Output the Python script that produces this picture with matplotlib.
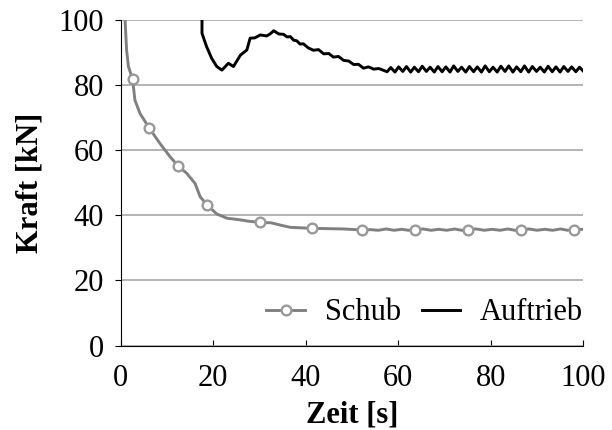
import matplotlib
matplotlib.use("Agg")
import matplotlib.pyplot as plt

# Schub (thrust) - grey line with circle markers
t_schub = [0.97, 1.3, 1.7, 2.6, 3.1, 4.2, 6.2, 8.5, 10.7, 12.4, 14.3, 16.1, 17.2, 18.7,
           20.8, 23.0, 25.9, 27.6, 30.2, 32.5, 34.5, 36.7, 41.4, 48.2, 52.2, 54.0, 55.7,
           57.4, 59.1, 60.8, 62.2, 63.7, 65.4, 67.1, 68.8, 70.5, 72.2, 73.7, 75.2,
           76.9, 78.6, 80.3, 82.0, 83.7, 85.2, 86.6, 88.3, 90.0, 91.7, 93.4, 95.1,
           96.6, 98.1, 100.0]
v_schub = [100.0, 90.8, 85.7, 81.8, 75.4, 71.3, 66.8, 62.1, 58.0, 55.2, 52.9, 49.8, 45.7, 43.2,
           40.4, 39.1, 38.6, 38.2, 37.8, 37.7, 37.0, 36.3, 36.0, 35.8, 35.5, 35.6, 35.4,
           35.8, 35.4, 35.7, 35.4, 35.6, 35.8, 35.4, 35.7, 35.4, 35.8, 35.4, 35.6,
           35.8, 35.4, 35.7, 35.4, 35.8, 35.4, 35.6, 35.8, 35.4, 35.7, 35.4, 35.8,
           35.4, 35.6, 35.7]
marker_idx = [3, 6, 9, 13, 18, 22, 24, 31, 38, 45, 52]

# Auftrieb (lift) - black line
t_auftrieb = [17.6, 17.6, 18.6, 19.7, 20.8, 21.9, 23.3, 24.4, 25.9, 27.3, 28.0, 29.0, 30.2, 31.6,
              32.4, 33.1, 34.2, 35.2, 36.0, 36.7, 37.4, 38.1, 38.8, 39.5, 40.6, 41.7, 42.8,
              43.9, 45.0, 46.0, 47.1, 48.2, 49.3, 50.4, 51.4, 52.5, 53.6, 54.7, 55.8, 56.9,
              57.6, 58.4, 59.3, 60.1, 61.0, 61.8, 62.7, 63.5, 64.4, 65.2, 66.1, 66.9,
              67.8, 68.6, 69.5, 70.3, 71.2, 72.0, 72.9, 73.7, 74.6, 75.4, 76.3, 77.1,
              78.0, 78.8, 79.7, 80.5, 81.4, 82.2, 83.1, 83.9, 84.8, 85.6, 86.5, 87.3,
              88.2, 89.0, 89.9, 90.7, 91.6, 92.4, 93.3, 94.1, 95.0, 95.8, 96.7, 97.5,
              98.4, 99.2, 100.0]
v_auftrieb = [101.0, 95.9, 91.8, 88.2, 85.7, 84.6, 86.7, 85.7, 89.2, 90.8, 94.4, 94.5, 95.4, 95.1,
              95.8, 96.7, 95.7, 95.6, 94.8, 94.9, 93.8, 93.6, 92.6, 92.7, 91.4, 90.7, 90.9,
              89.6, 89.7, 88.6, 88.8, 87.6, 87.4, 86.3, 86.4, 85.2, 85.6, 84.9, 85.1, 84.5,
              84.1, 85.4, 84.0, 85.6, 84.2, 85.7, 84.0, 85.5, 84.1, 85.8, 84.2, 85.5,
              84.0, 85.7, 84.1, 85.6, 84.0, 85.9, 84.2, 85.5, 84.0, 85.7, 84.1, 85.6,
              84.0, 85.9, 84.1, 85.5, 84.0, 85.8, 84.2, 85.9, 84.0, 85.6, 84.1, 85.9,
              84.0, 85.7, 84.2, 85.5, 84.0, 85.8, 84.1, 85.6, 84.0, 85.7, 84.2, 85.6,
              84.1, 85.5, 84.3]

x_ticks = [0, 20, 40, 60, 80, 100]
y_ticks = [0, 20, 40, 60, 80, 100]

plt.rcParams['font.family'] = ['Liberation Serif', 'DejaVu Serif']
plt.rcParams['font.size'] = 22

fig = plt.figure(figsize=(6.12, 4.30), dpi=100)
ax = fig.add_axes([0.197, 0.1965, 0.756, 0.757])

ax.plot(t_schub, v_schub, color='#808080', lw=2.1, marker='o', markevery=marker_idx,
        markersize=7, markerfacecolor='white', markeredgecolor='#999999',
        markeredgewidth=1.7, label='Schub')
ax.plot(t_auftrieb, v_auftrieb, color='black', lw=2.1, label='Auftrieb')

ax.set_xlim(0, 100)
ax.set_ylim(0, 100)
ax.set_xticks(x_ticks)
ax.set_yticks(y_ticks)
ax.yaxis.grid(True, color='#a0a0a0', lw=1.1)
ax.set_axisbelow(True)
for s in ['top', 'right']:
    ax.spines[s].set_visible(False)
ax.tick_params(axis='x', direction='in', length=4, pad=13)
ax.tick_params(axis='y', direction='out', length=4, pad=8)

ax.set_xlabel('Zeit [s]', fontweight='bold', labelpad=6)
ax.set_ylabel('Kraft [kN]', fontweight='bold', labelpad=10)

ax.legend(loc='center right', bbox_to_anchor=(1.0, 0.1), ncol=2, frameon=False,
          borderaxespad=0, borderpad=0, handlelength=1.25, handletextpad=0.65,
          columnspacing=0.7)

fig.savefig('out.png', dpi=100)
